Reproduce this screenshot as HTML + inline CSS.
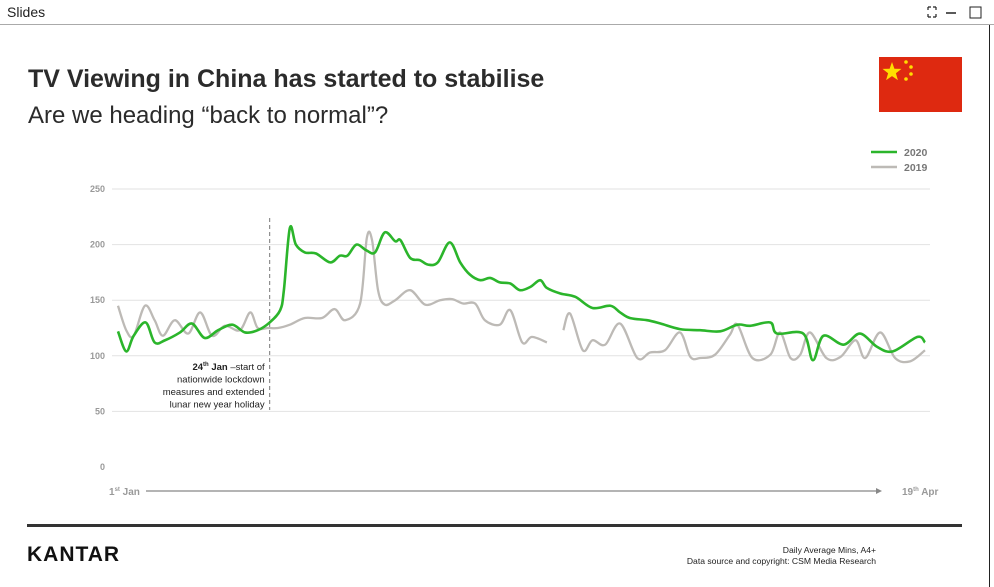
<!DOCTYPE html>
<html><head><meta charset="utf-8">
<style>
body{margin:0;width:994px;height:587px;overflow:hidden;background:#fff;font-family:"Liberation Sans",sans-serif;position:relative}
.hdr{position:absolute;left:0;top:0;width:994px;height:24px;border-bottom:1px solid #aaa;background:#fff}
.hdr span{position:absolute;left:7px;top:4px;font-size:14px;color:#222}
.rb{position:absolute;left:989px;top:25px;width:1px;height:562px;background:#222}
.title{position:absolute;left:28px;top:65px;font-size:25px;font-weight:bold;color:#2b2b2b}
.sub{position:absolute;left:28px;top:102px;font-size:24px;color:#2b2b2b}
</style></head><body>
<div class="hdr"><span>Slides</span>
<svg style="position:absolute;left:926px;top:5px" width="60" height="16">
<g stroke="#222" stroke-width="1.2" fill="none"><path d="M2 2h3M2 2v3M10 2h-3M10 2v3M2 12h3M2 12v-3M10 12h-3M10 12v-3"/></g>
<line x1="20" y1="8" x2="30" y2="8" stroke="#222" stroke-width="1.5"/>
<rect x="44" y="2" width="11" height="11" stroke="#222" fill="none"/>
</svg></div>
<div class="rb"></div>
<div class="title">TV Viewing in China has started to stabilise</div>
<div class="sub">Are we heading “back to normal”?</div>
<svg style="position:absolute;left:879px;top:57px" width="83" height="55">
<rect width="83" height="55" fill="#de2910"/>
<polygon points="13,5 15.4,11.7 22.5,11.9 16.9,16.3 18.9,23.1 13,19.1 7.1,23.1 9.1,16.3 3.5,11.9 10.6,11.7" fill="#ffde00"/>
<circle cx="27" cy="5" r="1.8" fill="#ffde00"/><circle cx="32" cy="10" r="1.8" fill="#ffde00"/><circle cx="32" cy="17" r="1.8" fill="#ffde00"/><circle cx="27" cy="22" r="1.8" fill="#ffde00"/>
</svg>
<svg id="chart" style="position:absolute;left:0;top:0" width="994" height="587"></svg>
<div style="position:absolute;left:27px;top:524px;width:935px;height:3px;background:#333"></div>
<div style="position:absolute;left:27px;top:543px;font-size:21px;font-weight:bold;letter-spacing:1px;color:#111">KANTAR</div>
<div style="position:absolute;right:118px;top:545px;font-size:8.6px;color:#222;text-align:right;line-height:11px">Daily Average Mins, A4+<br>Data source and copyright: CSM Media Research</div>
<script>
const yTicks=[0,50,100,150,200,250];
const days2020=[0,1.1,2.1,3.7,4.9,6.3,8.3,9.9,11.6,13.4,15.3,17,18.7,20.3,21.7,22.2,23,23.8,25,26.5,28.4,29.7,30.7,31.9,33.2,34.4,35.7,37.1,37.8,39.1,40.4,41.5,42.8,44.4,45.8,47.1,48.5,49.8,51.1,52.5,53.8,55.2,56.5,57.4,59.2,61.2,63.5,65.9,67.2,68.5,70.8,72.6,75.2,77.9,80.6,82.9,84.6,87.3,88.2,91.7,93,94.4,97.1,99.3,101.6,103.7,107,108];
const vals2020=[122,104,118,130,112,114,121,129,116,123,128,121,123,130,141,159,215,200,193,192,184,190,190,200,195,193,211,203,204,188,186,182,184,202,184,173,168,170,166,165,159,162,168,161,156,153,143,145,139,134,132,129,124,123,122,128,127,130,120,120,96,118,110,120,108,104,117,112];
const days2019=[0,1.1,2.1,3.6,4.9,6,7.6,9.4,11,12.6,14.3,16.3,17.7,18.7,20.1,21.4,23,25,27.3,29,30.4,32.4,33.3,34,34.8,35.7,37.1,39.1,41.1,43.1,44.7,46.2,47.8,49.1,51.1,52.5,54.1,55.4,57.4,null,59.6,60.5,62.2,63.5,65.2,67.2,69.5,71.2,73.2,75.2,76.6,77.9,79.9,81.9,82.9,84.9,87.3,88.6,90,91.3,92.6,94.8,96.7,98.7,100,102,104,106,108];
const vals2019=[145,123,118,145,132,118,132,120,139,118,127,123,139,125,125,125,128,134,134,142,132,147,206,204,159,146,150,159,146,150,151,147,147,132,128,141,112,117,112,null,123,138,105,114,110,129,98,103,105,121,99,98,101,119,128,98,101,121,98,101,121,98,99,114,98,121,98,95,105];
const lockdownDay=20.3;
const NS='http://www.w3.org/2000/svg';
const svg=document.getElementById('chart');
const X=d=>118+d*(807/108);
const Y=v=>467-v*1.112;
function mk(t,a){const e=document.createElementNS(NS,t);for(const k in a)e.setAttribute(k,a[k]);svg.appendChild(e);return e;}
yTicks.forEach(t=>{
 if(t>0){const g=mk('line',{x1:112,x2:930,y1:Y(t),y2:Y(t),stroke:'#e2e2e2','stroke-width':1});
 
 }
 const l=mk('text',{x:105,y:Y(t)+3,'text-anchor':'end','font-size':9,'font-weight':'bold',fill:'#999'});
 l.textContent=t;
 
 
});
function path(days,vals){
 const segs=[];let cur=[];
 days.forEach((d,i)=>{if(d===null){if(cur.length)segs.push(cur);cur=[];}else cur.push([X(d),Y(vals[i])]);});
 if(cur.length)segs.push(cur);
 let s='';
 segs.forEach(p=>{s+='M'+p[0][0]+' '+p[0][1];
  for(let i=0;i<p.length-1;i++){const p0=p[i-1]||p[i],p1=p[i],p2=p[i+1],p3=p[i+2]||p2;
   s+=' C'+(p1[0]+(p2[0]-p0[0])/6)+' '+(p1[1]+(p2[1]-p0[1])/6)+' '+(p2[0]-(p3[0]-p1[0])/6)+' '+(p2[1]-(p3[1]-p1[1])/6)+' '+p2[0]+' '+p2[1];}});
 return s;
}
const lockX=X(lockdownDay);
const vl=mk('line',{x1:lockX,x2:lockX,y1:218,y2:410,stroke:'#777','stroke-width':1,'stroke-dasharray':'4,3'});


const l19=mk('path',{d:path(days2019,vals2019),fill:'none',stroke:'#bdbab6','stroke-width':2.3});


const l20=mk('path',{d:path(days2020,vals2020),fill:'none',stroke:'#2bb52b','stroke-width':2.6});


const ann=['<tspan font-weight="bold">24<tspan font-size="6" dy="-4">th</tspan><tspan dy="4"> Jan</tspan></tspan> –start of','nationwide lockdown','measures and extended','lunar new year holiday'];
ann.forEach((a,i)=>{const t=mk('text',{x:lockX-5,y:370+i*12.5,'text-anchor':'end','font-size':9.5,fill:'#222'});
 t.innerHTML=a;
 
 });
[['2020','#2bb52b',152],['2019','#bdbab6',167]].forEach(e=>{
 const ln=mk('line',{x1:871,x2:897,y1:e[2],y2:e[2],stroke:e[1],'stroke-width':2.5});
 
 
 const t=mk('text',{x:904,y:e[2]+4,'font-size':10.5,'font-weight':'bold',fill:'#777'});
 t.textContent=e[0];
 
 });
const ax=mk('line',{x1:146,x2:876,y1:491,y2:491,stroke:'#888','stroke-width':1.2});


const ah=mk('polygon',{points:'876,488 882,491 876,494',fill:'#888'});


const t1=mk('text',{x:109,y:495,'font-size':10,'font-weight':'bold',fill:'#999'});
t1.innerHTML='1<tspan font-size="6" dy="-4">st</tspan><tspan dy="4"> Jan</tspan>';


const t2=mk('text',{x:902,y:495,'font-size':10,'font-weight':'bold',fill:'#999'});
t2.innerHTML='19<tspan font-size="6" dy="-4">th</tspan><tspan dy="4"> Apr</tspan>';


</script>
</body></html>
